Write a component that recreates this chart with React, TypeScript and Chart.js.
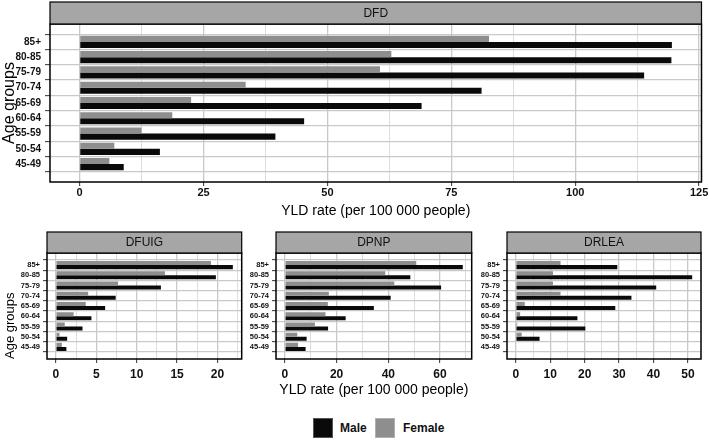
import React, { useEffect, useRef } from 'react';
import { Chart, registerables } from 'chart.js';

Chart.register(...registerables);

// ---------- data (top-to-bottom order as shown) ----------
const ageGroups = ['85+', '80-85', '75-79', '70-74', '65-69', '60-64', '55-59', '50-54', '45-49'];

const dfdMale = [119.5, 119.4, 113.9, 81.1, 69.0, 45.3, 39.5, 16.2, 8.9];
const dfdFemale = [82.6, 62.9, 60.6, 33.5, 22.5, 18.7, 12.5, 7.0, 6.0];

const dfuigMale = [21.9, 19.8, 13.0, 7.4, 6.1, 4.4, 3.3, 1.4, 1.3];
const dfuigFemale = [19.2, 13.5, 7.7, 4.0, 3.7, 2.2, 1.1, 0.45, 0.74];

const dpnpMale = [68.8, 48.5, 60.4, 40.9, 34.4, 23.5, 16.7, 8.4, 8.0];
const dpnpFemale = [50.8, 38.8, 42.3, 17.0, 16.6, 15.7, 11.6, 4.8, 5.1];

const drleaMale = [29.5, 51.25, 40.8, 33.6, 28.9, 17.9, 20.2, 6.9, 0];
const drleaFemale = [13.0, 10.8, 10.8, 13.0, 2.6, 1.25, 0.4, 1.7, 0];

const dfdTicks = [0, 25, 50, 75, 100, 125];
const dfuigTicks = [0, 5, 10, 15, 20];
const dpnpTicks = [0, 20, 40, 60];
const drleaTicks = [0, 10, 20, 30, 40, 50];

const xTitle = 'YLD rate (per 100 000 people)';
const yTitle = 'Age groups';
const seriesNames = ['Male', 'Female'];

// ---------- styles ----------
const FONT = "'Liberation Sans', Arial, Helvetica, sans-serif";
const MALE = '#0a0a0a';
const FEMALE = '#8e8e8e';
const STRIP = '#a6a6a6';
const GRID_MAJOR = '#c9c9c9';
const GRID_MINOR = '#d9d9d9';

const stripPlugin = {
  id: 'facetStrip',
  afterDraw(chart: any, _args: any, opts: any) {
    const { ctx, chartArea: a } = chart;
    ctx.save();
    ctx.strokeStyle = '#000';
    ctx.lineWidth = 1.5;
    ctx.strokeRect(a.left, a.top, a.right - a.left, a.bottom - a.top);
    const h = opts.height;
    ctx.fillStyle = STRIP;
    ctx.fillRect(a.left, a.top - h, a.right - a.left, h);
    ctx.lineWidth = 1.2;
    ctx.strokeRect(a.left, a.top - h, a.right - a.left, h);
    ctx.fillStyle = '#111';
    ctx.font = `12px ${FONT}`;
    ctx.textAlign = 'center';
    ctx.textBaseline = 'middle';
    ctx.fillText(opts.text, (a.left + a.right) / 2, a.top - h / 2 + 0.5);
    ctx.restore();
  },
};

type Spec = {
  title: string;
  male: number[];
  female: number[];
  ticks: number[];
  left: number;
  top: number;
  width: number;
  height: number;
  yWidth: number;
  padTop: number;
  padRight: number;
  xHeight: number;
  stripH: number;
  xTickSize: number;
  xTickPad: number;
  yTickSize: number;
  yTickLen: number;
  yTickPad: number;
  showXTitle: boolean;
  xTitlePadBottom: number;
  showYTitle: boolean;
  yTitleSize: number;
  yTitleAlign: 'start' | 'center' | 'end';
  yTitlePad: number;
};

function Panel({ spec }: { spec: Spec }) {
  const ref = useRef<HTMLCanvasElement | null>(null);
  useEffect(() => {
    if (!ref.current) return;
    const n = ageGroups.length;
    const dataMax = Math.max(...spec.male, ...spec.female);
    const xMin = -0.05 * dataMax;
    const xMax = 1.05 * dataMax;
    const step = spec.ticks[1] - spec.ticks[0];
    const all: number[] = [];
    for (let v = spec.ticks[0] - step / 2; v <= xMax; v += step / 2) {
      if (v >= xMin) all.push(Math.round(v * 1000) / 1000);
    }
    const isMajor = (v: number) => spec.ticks.includes(v);
    const toPts = (vals: number[]) => vals.map((v, i) => ({ x: v, y: n - i }));

    const chart = new Chart(ref.current, {
      type: 'bar',
      data: {
        datasets: [
          { label: seriesNames[1], data: toPts(spec.female) as any, backgroundColor: FEMALE, borderWidth: 0, categoryPercentage: 0.8, barPercentage: 1 },
          { label: seriesNames[0], data: toPts(spec.male) as any, backgroundColor: MALE, borderWidth: 0, categoryPercentage: 0.8, barPercentage: 1 },
        ],
      },
      plugins: [stripPlugin],
      options: {
        indexAxis: 'y',
        responsive: false,
        animation: false,
        layout: { padding: { top: spec.padTop, right: spec.padRight, left: 0, bottom: 0 } },
        plugins: {
          legend: { display: false },
          tooltip: { enabled: false },
          facetStrip: { text: spec.title, height: spec.stripH },
        } as any,
        scales: {
          x: {
            type: 'linear',
            min: xMin,
            max: xMax,
            afterBuildTicks: (s: any) => {
              s.ticks = all.map((v) => ({ value: v }));
            },
            afterFit: (s: any) => {
              s.height = spec.xHeight;
            },
            ticks: {
              autoSkip: false,
              maxRotation: 0,
              padding: spec.xTickPad,
              color: '#111',
              font: { family: FONT, size: spec.xTickSize, weight: 'bold' },
              callback: (v: any) => (isMajor(Number(v)) ? String(v) : ''),
            },
            grid: {
              color: (c: any) => (c.tick && isMajor(c.tick.value) ? GRID_MAJOR : GRID_MINOR),
              lineWidth: (c: any) => (c.tick && isMajor(c.tick.value) ? 1.3 : 0.9),
              tickLength: 4,
              tickColor: (c: any) => (c.tick && isMajor(c.tick.value) ? '#333' : 'rgba(0,0,0,0)'),
              tickWidth: 1,
            },
            border: { display: false },
            title: {
              display: spec.showXTitle,
              text: xTitle,
              color: '#000',
              font: { family: FONT, size: 14 },
              padding: { top: 0, bottom: spec.xTitlePadBottom },
            },
          },
          y: {
            type: 'linear',
            min: 0.4,
            max: n + 0.6,
            afterBuildTicks: (s: any) => {
              s.ticks = ageGroups.map((_, i) => ({ value: i + 1 }));
            },
            afterFit: (s: any) => {
              s.width = spec.yWidth;
            },
            ticks: {
              autoSkip: false,
              padding: spec.yTickPad,
              color: '#111',
              font: { family: FONT, size: spec.yTickSize, weight: 'bold' },
              callback: (v: any) => ageGroups[n - Number(v)],
            },
            grid: {
              color: GRID_MAJOR,
              lineWidth: 1.3,
              tickLength: spec.yTickLen,
              tickColor: '#333',
              tickWidth: 1,
            },
            border: { display: false },
            title: {
              display: spec.showYTitle,
              text: yTitle,
              align: spec.yTitleAlign,
              color: '#000',
              font: { family: FONT, size: spec.yTitleSize },
              padding: { top: spec.yTitlePad, bottom: 0 },
            },
          },
        },
      } as any,
    });
    return () => chart.destroy();
  }, [spec]);

  return (
    <canvas
      ref={ref}
      width={spec.width}
      height={spec.height}
      style={{ position: 'absolute', left: spec.left, top: spec.top, width: spec.width, height: spec.height }}
    />
  );
}

const base = {
  stripH: 21,
  xTickSize: 12,
  xTickPad: 4,
  yTickSize: 7.5,
  yTickLen: 4,
  yTickPad: 3,
  showXTitle: false,
  xTitlePadBottom: 1.6,
  showYTitle: false,
  yTitleSize: 13,
  yTitleAlign: 'start' as const,
  yTitlePad: 3,
  top: 225,
  height: 175,
  padTop: 28,
  xHeight: 41,
};

const specs: Spec[] = [
  {
    ...base,
    title: 'DFD', male: dfdMale, female: dfdFemale, ticks: dfdTicks,
    left: 0, top: 0, width: 709, height: 220, yWidth: 50, padTop: 24, padRight: 7.5, xHeight: 38,
    stripH: 22, xTickSize: 11, xTickPad: 0, yTickSize: 10, yTickLen: 5, yTickPad: 4,
    showXTitle: true, xTitlePadBottom: 0, showYTitle: true, yTitleSize: 16, yTitleAlign: 'center', yTitlePad: 0,
  },
  {
    ...base,
    title: 'DFUIG', male: dfuigMale, female: dfuigFemale, ticks: dfuigTicks,
    left: 0, width: 245, yWidth: 47, padRight: 3.3, showYTitle: true,
  },
  {
    ...base,
    title: 'DPNP', male: dpnpMale, female: dpnpFemale, ticks: dpnpTicks,
    left: 245, width: 230, yWidth: 31, padRight: 3.3, showXTitle: true,
  },
  {
    ...base,
    title: 'DRLEA', male: drleaMale, female: drleaFemale, ticks: drleaTicks,
    left: 475, width: 234, yWidth: 32, padRight: 8,
  },
];

export default function App() {
  const legendText: React.CSSProperties = {
    position: 'absolute', top: 420, fontFamily: FONT, fontSize: 12, fontWeight: 'bold', color: '#111', lineHeight: '16px',
  };
  const box: React.CSSProperties = { position: 'absolute', top: 418, width: 20, height: 20, boxSizing: 'border-box' };
  return (
    <div style={{ position: 'absolute', left: 0, top: 0, width: 709, height: 440, background: '#fff', overflow: 'hidden' }}>
      {specs.map((s) => (
        <Panel key={s.title} spec={s} />
      ))}
      <div style={{ ...box, left: 313, background: MALE, border: '1px solid #555' }} />
      <div style={{ ...legendText, left: 340 }}>{seriesNames[0]}</div>
      <div style={{ ...box, left: 375, background: FEMALE, border: '1px solid #b0b0b0' }} />
      <div style={{ ...legendText, left: 403 }}>{seriesNames[1]}</div>
    </div>
  );
}
